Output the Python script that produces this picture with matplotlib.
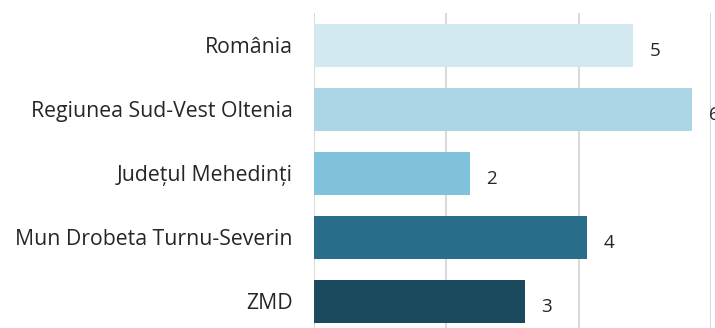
import matplotlib.pyplot as plt

plt.rcParams["font.family"] = ["Open Sans", "DejaVu Sans"]

# categorii si valori
regiuni = ["România", "Regiunea Sud-Vest Oltenia", "Județul Mehedinți",
           "Mun Drobeta Turnu-Severin", "ZMD"]
valori = [4.82, 5.72, 2.36, 4.12, 3.19]
culori = ["#d3e9f2", "#acd5e6", "#80c1db", "#286e8a", "#1b4a5e"]

fig = plt.figure(figsize=(7.15, 3.28), dpi=100)
ax = fig.add_axes([0.4387, -0.0168, 0.5557, 0.9772])

y = range(len(regiuni))
ax.barh(y, valori, height=0.67, color=culori, zorder=2)

# etichete cu valoarea rotunjita
for i, v in enumerate(valori):
    ax.annotate("%.0f" % v, (v, i), xytext=(12, -4), textcoords="offset points",
                ha="left", va="center", fontsize=13.5, color="#262626",
                annotation_clip=False)

ax.set_yticks(list(y))
ax.set_yticklabels(regiuni, fontsize=15.3, color="#262626")
ax.set_ylim(len(regiuni) - 0.5, -0.5)
ax.set_xlim(0, 6)
ax.set_xticks([0, 2, 4, 6])
ax.tick_params(axis="y", length=0, pad=15)
ax.tick_params(axis="x", length=0, labelbottom=False)
ax.grid(axis="x", color="#d9d9d9", linewidth=1.5, zorder=0)
for s in ax.spines.values():
    s.set_visible(False)

fig.savefig("out.png", dpi=100)
